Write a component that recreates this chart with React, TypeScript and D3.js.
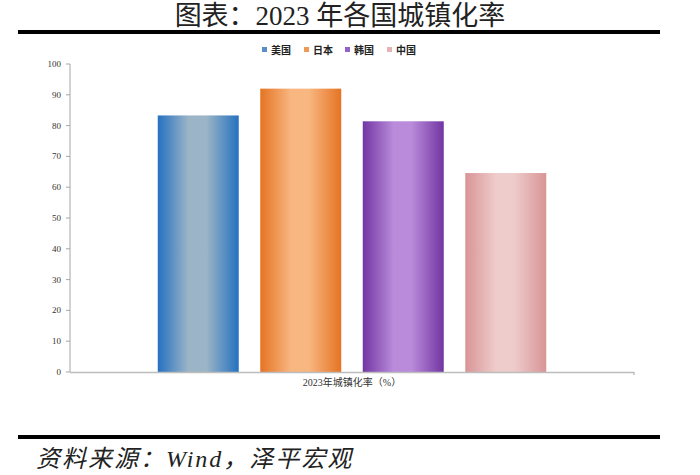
import React from "react";
import * as d3 from "d3";

const countries = ["美国", "日本", "韩国", "中国"];
const values = [83.3, 92.0, 81.4, 64.6];
const yTicks = [0, 10, 20, 30, 40, 50, 60, 70, 80, 90, 100];
const category = "2023年城镇化率（%）";
const title = "图表：2023 年各国城镇化率";
const source = "资料来源：Wind，泽平宏观";

const edgeColors = ["#2571C0", "#E57423", "#7235A3", "#D99496"];
const midColors = ["#9BB5C7", "#F8B681", "#B98BDA", "#EECCCB"];
const legendColors = ["#5B8DC8", "#EE9A55", "#9462C4", "#E4B4B5"];

const W = 700;
const H = 475;
const serif = "'Liberation Serif', 'DejaVu Serif', 'Noto Sans CJK SC', serif";
const cjk = "'Liberation Serif', 'Noto Sans CJK SC', serif";

export default function App() {
  const x0 = 70, x1 = 634, yTop = 64, yBot = 372;
  const x = d3.scaleBand<string>().domain(countries).range([x0, x1]).paddingInner(0.21).paddingOuter(0.856);
  const y = d3.scaleLinear().domain([0, 100]).range([yBot, yTop]);
  const legendX = [262, 304, 345, 387];

  return (
    <svg width={W} height={H} style={{ position: "absolute", left: 0, top: 0, background: "#fff" }}>
      <defs>
        {countries.map((c, i) => (
          <linearGradient key={c} id={`g${i}`} x1="0" x2="1" y1="0" y2="0">
            <stop offset="0" stopColor={edgeColors[i]} />
            <stop offset="0.38" stopColor={midColors[i]} />
            <stop offset="0.6" stopColor={midColors[i]} />
            <stop offset="1" stopColor={edgeColors[i]} />
          </linearGradient>
        ))}
      </defs>
      <rect x={0} y={0} width={W} height={H} fill="#fff" />
      <text x={340} y={25} textAnchor="middle" fontFamily={cjk} fontSize={27} fill="#222">{title}</text>
      <rect x={18} y={30} width={642} height={4} fill="#000" />

      {countries.map((c, i) => (
        <g key={c}>
          <rect x={legendX[i]} y={47} width={5} height={5} fill={legendColors[i]} />
          <text x={legendX[i] + 9} y={53.5} fontFamily={serif} fontSize={10} fontWeight="bold" fill="#222">{c}</text>
        </g>
      ))}

      {countries.map((c, i) => (
        <rect key={c} x={x(c)} y={y(values[i])} width={x.bandwidth()} height={yBot - y(values[i])} fill={`url(#g${i})`} />
      ))}

      <line x1={x0} x2={x0} y1={yTop} y2={yBot} stroke="#A6A6A6" strokeWidth={1} />
      <line x1={x0} x2={x1} y1={yBot + 0.5} y2={yBot + 0.5} stroke="#BDBDBD" strokeWidth={1.5} />
      <line x1={x1} x2={x1} y1={yBot} y2={yBot + 3} stroke="#A6A6A6" />
      {yTicks.map((t) => (
        <g key={t}>
          <line x1={x0 - 4} x2={x0} y1={y(t)} y2={y(t)} stroke="#A6A6A6" />
          <text x={61} y={y(t) + 3} textAnchor="end" fontFamily={serif} fontSize={9} fill="#333">{t}</text>
        </g>
      ))}
      <text x={(x0 + x1) / 2} y={386} textAnchor="middle" fontFamily={serif} fontSize={10} fill="#333">{category}</text>

      <rect x={18} y={435} width={642} height={4} fill="#000" />
      <text x={36} y={467} fontFamily={cjk} fontStyle="italic" fontSize={24} letterSpacing={2} fill="#222">{source}</text>
    </svg>
  );
}
